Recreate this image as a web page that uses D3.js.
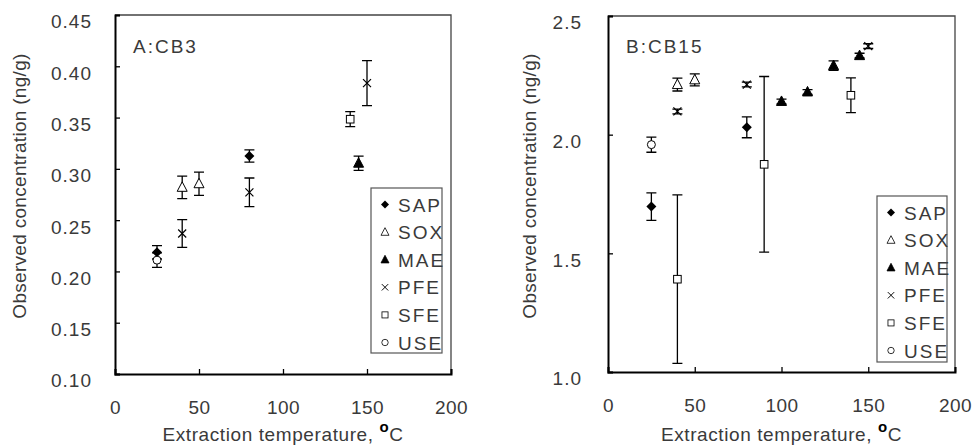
<!DOCTYPE html>
<html><head><meta charset="utf-8">
<script src="https://cdn.jsdelivr.net/npm/d3@7"></script>
<style>
html,body{margin:0;padding:0;background:#fff;}
svg{display:block;}
text{font-family:"Liberation Sans","DejaVu Sans",sans-serif;fill:#3a3a3a;}
</style></head>
<body>
<svg id="chart" width="974" height="445"></svg>
<script>
// ---------- data ----------
const seriesNames = ["SAP","SOX","MAE","PFE","SFE","USE"];
const xTicks = [0,50,100,150,200];
const yTicksA = [0.10,0.15,0.20,0.25,0.30,0.35,0.40,0.45];
const yTickLabelsA = ["0.10","0.15","0.20","0.25","0.30","0.35","0.40","0.45"];
const yTicksB = [1.0,1.5,2.0,2.5];
const yTickLabelsB = ["1.0","1.5","2.0","2.5"];

// Panel A: CB3  [temperature, value, error]
const cb3SAP = [[25,0.2186,0.0065],[80,0.3126,0.006]];
const cb3SOX = [[40,0.282,0.011],[50,0.2855,0.0113]];
const cb3MAE = [[145,0.3055,0.007]];
const cb3PFE = [[40,0.237,0.0135],[80,0.2771,0.014],[150,0.3836,0.022]];
const cb3SFE = [[140,0.3484,0.0073]];
const cb3USE = [[25,0.211,0.007]];

// Panel B: CB15
const cb15SAP = [[25,1.697,0.058],[80,2.031,0.044]];
const cb15SOX = [[40,2.211,0.027],[50,2.231,0.025]];
const cb15MAE = [[100,2.14,0.01],[115,2.18,0.01],[130,2.291,0.02],[145,2.333,0.01]];
const cb15PFE = [[40,2.098,0.01],[80,2.211,0.01],[150,2.373,0.01]];
const cb15SFE = [[40,1.391,0.355],[90,1.875,0.37],[140,2.166,0.073]];
const cb15USE = [[25,1.958,0.032]];

const panels = [
  {label:"A:CB3", yDomain:[0.10,0.45], yTicks:yTicksA, yLabels:yTickLabelsA, yPad:23,
   series:[cb3SAP,cb3SOX,cb3MAE,cb3PFE,cb3SFE,cb3USE],
   box:{l:115,r:451,t:15,b:374}, yTitleX:20, legend:{x:371,y:188,w:71,h:165}},
  {label:"B:CB15", yDomain:[1.0,2.5], yTicks:yTicksB, yLabels:yTickLabelsB, yPad:26,
   series:[cb15SAP,cb15SOX,cb15MAE,cb15PFE,cb15SFE,cb15USE],
   box:{l:608,r:955,t:16,b:372}, yTitleX:530, legend:{x:877,y:196,w:70,h:166}}
];

// ---------- markers ----------
function marker(g, type){
  if(type==="SAP"){
    g.append("path").attr("d","M0,-5L5,0L0,5L-5,0Z").attr("fill","#000");
  } else if(type==="SOX" || type==="MAE"){
    g.append("path").attr("d","M0,-5.5L5,4L-5,4Z")
      .attr("fill", type==="MAE" ? "#000" : "#fff").attr("stroke","#000").attr("stroke-width",1);
  } else if(type==="PFE"){
    g.append("path").attr("d","M-4,-4L4,4M-4,4L4,-4").attr("stroke","#000").attr("stroke-width",1.2);
  } else if(type==="SFE"){
    g.append("rect").attr("x",-3.8).attr("y",-3.8).attr("width",7.6).attr("height",7.6)
      .attr("fill","#fff").attr("stroke","#000").attr("stroke-width",1);
  } else if(type==="USE"){
    g.append("circle").attr("r",4).attr("fill","#fff").attr("stroke","#000").attr("stroke-width",1);
  }
}

const svg = d3.select("#chart");

panels.forEach(p=>{
  const b = p.box;
  const x = d3.scaleLinear().domain([0,200]).range([b.l,b.r]);
  const y = d3.scaleLinear().domain(p.yDomain).range([b.b,b.t]);
  const g = svg.append("g");

  // frame: top & right
  g.append("path").attr("d",`M${b.l},${b.t}H${b.r}V${b.b}`)
    .attr("fill","none").attr("stroke","#444").attr("stroke-width",1.3);

  // axes via d3
  const yAxis = d3.axisLeft(y).tickValues(p.yTicks).tickSize(-5).tickFormat((d,i)=>p.yLabels[i]).tickPadding(p.yPad);
  const ya = g.append("g").attr("transform",`translate(${b.l},0)`).call(yAxis);
  ya.select(".domain").attr("stroke","#000").attr("stroke-width",2);
  ya.selectAll(".tick line").attr("stroke","#000").attr("stroke-width",1.3);
  ya.selectAll(".tick text").attr("font-size",19).attr("fill","#3a3a3a")
    .attr("dy","0.68em").attr("letter-spacing","1px");

  const xAxis = d3.axisBottom(x).tickValues(xTicks).tickSize(-5).tickPadding(27);
  const xa = g.append("g").attr("transform",`translate(0,${b.b})`).call(xAxis);
  xa.select(".domain").attr("stroke","#000").attr("stroke-width",2);
  xa.selectAll(".tick line").attr("stroke","#000").attr("stroke-width",1.3);
  xa.selectAll(".tick text").attr("font-size",19).attr("fill","#3a3a3a").attr("letter-spacing","0.5px");

  // titles
  const xt = g.append("text").attr("x",(b.l+b.r)/2).attr("y",441)
    .attr("text-anchor","middle").attr("font-size",19).attr("letter-spacing","0.6px");
  xt.append("tspan").text("Extraction temperature, ");
  xt.append("tspan").attr("font-weight","bold").attr("dy",-9).attr("font-size",15).attr("fill","#000").text("o");
  xt.append("tspan").attr("dy",9).text("C");

  g.append("text").attr("transform",`translate(${p.yTitleX+6},186) rotate(-90)`)
    .attr("text-anchor","middle").attr("font-size",19).attr("letter-spacing","0.3px")
    .text("Observed concentration (ng/g)");

  g.append("text").attr("x",b.l+18).attr("y",53).attr("font-size",19)
    .attr("letter-spacing","2px").text(p.label);

  // data
  p.series.forEach((arr,si)=>{
    const name = seriesNames[si];
    arr.forEach(d=>{
      const cx = x(d[0]), cy = y(d[1]), y1 = y(d[1]+d[2]), y2 = y(d[1]-d[2]);
      g.append("path").attr("d",`M${cx},${y1}V${y2}M${cx-5},${y1}H${cx+5}M${cx-5},${y2}H${cx+5}`)
        .attr("stroke","#000").attr("stroke-width",1.3).attr("fill","none");
      const m = g.append("g").attr("transform",`translate(${cx},${cy})`);
      marker(m,name);
    });
  });

  // legend
  const L = p.legend;
  g.append("rect").attr("x",L.x).attr("y",L.y).attr("width",L.w).attr("height",L.h)
    .attr("fill","#fff").attr("stroke","#555").attr("stroke-width",1.2);
  seriesNames.forEach((n,i)=>{
    const ly = L.y + 16.5 + i*27.6;
    const mg = g.append("g").attr("transform",`translate(${L.x+14},${ly}) scale(0.8)`);
    marker(mg,n);
    g.append("text").attr("x",L.x+27).attr("y",ly+7).attr("font-size",19)
      .attr("letter-spacing","2px").text(n);
  });
});
</script>
</body></html>
